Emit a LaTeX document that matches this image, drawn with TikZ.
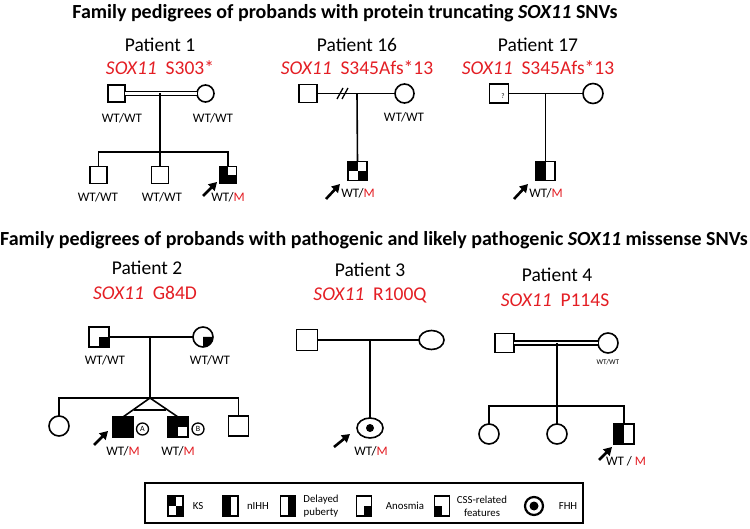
\documentclass[tikz,border=0pt]{standalone}
\usepackage{fontspec}
\setmainfont{Carlito}
\usetikzlibrary{arrows.meta,shapes.geometric}
\definecolor{mred}{RGB}{228,30,36}
\newcommand\qTL[1]{\fill (#1.north west) rectangle (#1.center);}
\newcommand\qTR[1]{\fill (#1.north east) rectangle (#1.center);}
\newcommand\qBL[1]{\fill (#1.south west) rectangle (#1.center);}
\newcommand\qBR[1]{\fill (#1.south east) rectangle (#1.center);}
\begin{document}
\begin{tikzpicture}[x=1pt,y=-1pt,
  ln/.style={line width=1.6pt},
  sq/.style={draw,line width=1.6pt,shape=rectangle,minimum size=#1,inner sep=0pt,outer sep=0pt},
  sq/.default=18pt,
  ci/.style={draw,line width=1.6pt,circle,minimum size=#1,inner sep=0pt,outer sep=0pt},
  ci/.default=19pt,
  el/.style={draw,line width=1.6pt,ellipse,minimum width=25pt,minimum height=19pt,inner sep=0pt,outer sep=0pt},
  ttl/.style={font=\fontsize{20}{23}\selectfont\bfseries},
  pat/.style={font=\fontsize{19.5}{22}\selectfont},
  mut/.style={font=\fontsize{19.5}{22}\selectfont,text=mred},
  gt/.style={font=\fontsize{13}{15}\selectfont,inner sep=0pt},
  lg/.style={font=\fontsize{10.8}{12.8}\selectfont,align=center,inner sep=0pt},
  lgi/.style={draw,line width=1.8pt,minimum width=15pt,minimum height=20pt,inner sep=0pt,outer sep=0pt},
  tw/.style={draw,circle,line width=1.3pt,minimum size=12pt,inner sep=0pt,font=\fontsize{8}{9}\selectfont},
  prob/.style={line width=2.6pt,-{Triangle[length=8pt,width=9pt]}},
  cons/.style={double,double distance=2.6pt,line width=1.4pt}
]
\fill[white] (0,0) rectangle (750,529);
\useasboundingbox (0,0) rectangle (750,529);

% titles
\node[ttl] (tA) at (345,13) {Family pedigrees of probands with protein truncating \textit{SOX11} SNVs};
\node[ttl] (tB) at (374,240) {Family pedigrees of probands with pathogenic and likely pathogenic \textit{SOX11} missense SNVs};

% ---------- Patient 1
\node[pat] (n1) at (160,45) {Patient 1};
\node[mut] (m1) at (160,68) {\textit{SOX11}\ \ S303*};
\node[sq=17pt] (p1f) at (116.5,93.5) {};
\node[ci=17pt] (p1m) at (205.5,93.5) {};
\draw[cons] (p1f.east) -- (p1m.west);
\coordinate (j1) at (160,93.5);
\coordinate (s1) at (160,152);
\node[sq=17pt] (p1c1) at (98.5,175) {};
\node[sq=17pt] (p1c2) at (160,175) {};
\node[sq=17pt] (p1c3) at (228,175) {};
\qTL{p1c3}\qBL{p1c3}\qBR{p1c3}
\draw[ln] (j1) -- (s1);
\draw[ln] (p1c1.north) |- (s1) -| (p1c3.north);
\draw[ln] (s1) -- (p1c2.north);
\node[gt] (g1f) at (122,118) {WT/WT};
\node[gt] (g1m) at (213,118) {WT/WT};
\node[gt] (g1c1) at (98,197) {WT/WT};
\node[gt] (g1c2) at (162,197) {WT/WT};
\node[gt] (g1c3) at (228,197) {WT/\textcolor{mred}{M}};
\coordinate (a1) at (203,196);
\coordinate (b1) at (217,182);
\draw[prob] (a1) -- (b1);

% ---------- Patient 16
\node[pat] (n16) at (357,45) {Patient 16};
\node[mut] (m16) at (357,68) {\textit{SOX11}\ \ S345Afs*13};
\node[sq=18pt] (p16f) at (308,93.5) {};
\node[ci=19pt] (p16m) at (404.5,93.5) {};
\draw[ln] (p16f.east) -- (p16m.west);
\coordinate (j16) at (357,93.5);
\coordinate (d16a) at (337,99);
\coordinate (d16b) at (343,88);
\coordinate (d16c) at (342,99);
\coordinate (d16d) at (348,88);
\draw[line width=1.3pt] (d16a) -- (d16b) (d16c) -- (d16d);
\node[sq=19pt] (p16p) at (357.5,171) {};
\qTL{p16p}\qBR{p16p}
\draw[ln] (j16) -- (p16p.north);
\node[gt] (g16m) at (404,117) {WT/WT};
\node[gt] (g16p) at (358,193) {WT/\textcolor{mred}{M}};
\coordinate (a16) at (326,199);
\coordinate (b16) at (340,184);
\draw[prob] (a16) -- (b16);

% ---------- Patient 17
\node[pat] (n17) at (538,45) {Patient 17};
\node[mut] (m17) at (538,68) {\textit{SOX11}\ \ S345Afs*13};
\node[sq=19pt] (p17f) at (499,93.5) {};
\node[font=\fontsize{7}{8}\selectfont,inner sep=0pt] (q17) at (503,96) {?};
\node[ci=20pt] (p17m) at (593,93.5) {};
\draw[ln] (p17f.east) -- (p17m.west);
\coordinate (j17) at (545.5,93.5);
\node[sq=19pt] (p17p) at (545.5,171) {};
\qTL{p17p}\qBL{p17p}
\draw[ln] (j17) -- (p17p.north);
\node[gt] (g17p) at (546,193) {WT/\textcolor{mred}{M}};
\coordinate (a17) at (514,199);
\coordinate (b17) at (528,184);
\draw[prob] (a17) -- (b17);

% ---------- Patient 2
\node[pat] (n2) at (147,268) {Patient 2};
\node[mut] (m2) at (145,293) {\textit{SOX11}\ \ G84D};
\node[sq=20pt] (p2f) at (99,337) {};
\qBR{p2f}
\node[ci=20pt] (p2m) at (203,337) {};
\fill (p2m.center) -- (p2m.east) arc[start angle=0,end angle=-90,radius=10pt] -- cycle;
\draw[ln] (p2f.east) -- (p2m.west);
\coordinate (j2) at (150,337);
\coordinate (s2) at (150,398);
\draw[ln] (j2) -- (s2);
\node[ci=20pt] (p2c1) at (59,426) {};
\node[sq=20pt] (p2A) at (123,427) {};
\fill (p2A.north west) rectangle (p2A.south east);
\node[sq=20pt] (p2B) at (178,427) {};
\qTL{p2B}\qTR{p2B}\qBL{p2B}
\node[sq=20pt] (p2c4) at (238.5,426) {};
\draw[ln] (p2c1.north) |- (s2) -| (p2c4.north);
\draw[ln] (p2A.north) -- (s2) -- (p2B.north);
\coordinate (x2a) at (134,410);
\coordinate (x2b) at (166,410);
\draw[ln] (x2a) -- (x2b);
\node[tw] (tA2) at (142.5,429) {A};
\node[tw] (tB2) at (198,429) {B};
\node[gt] (g2f) at (105,360) {WT/WT};
\node[gt] (g2m) at (210,360) {WT/WT};
\node[gt] (g2A) at (123,451) {WT/\textcolor{mred}{M}};
\node[gt] (g2B) at (178,451) {WT/\textcolor{mred}{M}};
\coordinate (a2) at (94,445);
\coordinate (b2) at (108,431);
\draw[prob] (a2) -- (b2);

% ---------- Patient 3
\node[pat] (n3) at (370,270) {Patient 3};
\node[mut] (m3) at (370,295) {\textit{SOX11}\ \ R100Q};
\node[sq=21pt] (p3f) at (307,340) {};
\node[el] (p3m) at (431.5,340) {};
\draw[ln] (p3f.east) -- (p3m.west);
\coordinate (j3) at (370,340);
\node[el,minimum width=26pt,minimum height=20pt] (p3p) at (370,428) {};
\fill (p3p.center) circle[radius=4pt];
\draw[ln] (j3) -- (p3p.north);
\node[gt] (g3p) at (371,451) {WT/\textcolor{mred}{M}};
\coordinate (a3) at (334,447);
\coordinate (b3) at (350,434);
\draw[prob] (a3) -- (b3);

% ---------- Patient 4
\node[pat] (n4) at (557,275) {Patient 4};
\node[mut] (m4) at (555,300) {\textit{SOX11}\ \ P114S};
\node[sq=19pt] (p4f) at (504.5,343) {};
\node[ci=20pt] (p4m) at (608,343) {};
\draw[cons] (p4f.east) -- (p4m.west);
\coordinate (j4) at (557,343);
\coordinate (s4) at (557,406);
\draw[ln] (j4) -- (s4);
\node[ci=20pt] (p4c1) at (489,434) {};
\node[ci=20pt] (p4c2) at (557,434) {};
\node[sq=20pt] (p4p) at (624,434) {};
\qTL{p4p}\qBL{p4p}
\draw[ln] (p4c1.north) |- (s4) -| (p4p.north);
\draw[ln] (s4) -- (p4c2.north);
\node[font=\fontsize{7.3}{8}\selectfont,inner sep=0pt] (g4m) at (608,362) {WT/WT};
\node[gt] (g4p) at (626,461) {WT / \textcolor{mred}{M}};
\coordinate (a4) at (599,460);
\coordinate (b4) at (612,447);
\draw[prob] (a4) -- (b4);

% ---------- Legend
\node[draw,line width=2.2pt,minimum width=438pt,minimum height=40pt,inner sep=0pt] (leg) at (364,503) {};
\node[lgi] (iKS) at (175.5,506) {};
\qTL{iKS}\qBR{iKS}
\node[lg] (lKS) at (198,506) {KS};
\node[lgi] (iN) at (230.5,506) {};
\qTL{iN}\qBL{iN}
\node[lg] (lN) at (258,506) {nIHH};
\node[lgi] (iD) at (288,506) {};
\qTR{iD}\qBR{iD}
\node[lg] (lD) at (321,506) {Delayed\\puberty};
\node[lgi] (iAn) at (364,506) {};
\qBR{iAn}
\node[lg] (lAn) at (405,506) {Anosmia};
\node[lgi] (iC) at (442,506) {};
\qBL{iC}
\node[lg] (lC) at (482,506) {CSS-related\\features};
\node[draw,circle,line width=2.2pt,minimum size=18pt,inner sep=0pt] (iF) at (534,506) {};
\fill (iF.center) circle[radius=4.5pt];
\node[lg] (lF) at (568,506) {FHH};
\end{tikzpicture}
\end{document}
